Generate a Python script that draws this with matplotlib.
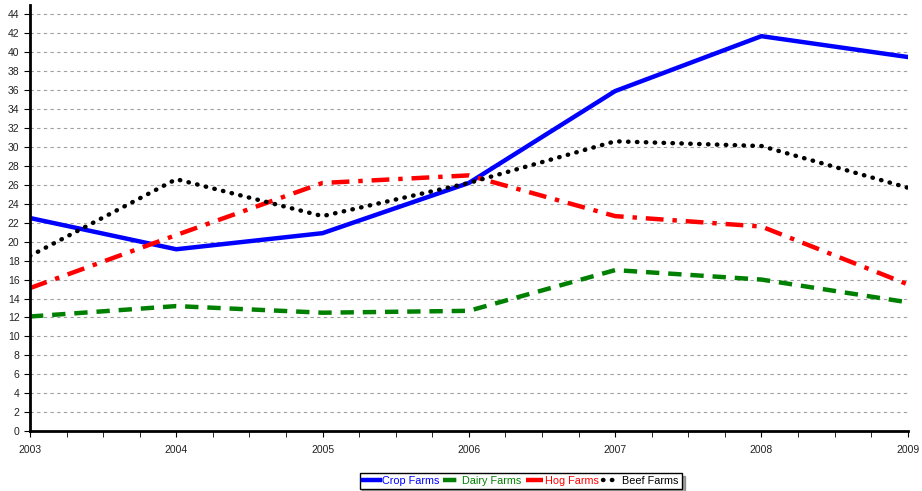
import matplotlib.pyplot as plt
from matplotlib.ticker import MultipleLocator

years = [2003, 2004, 2005, 2006, 2007, 2008, 2009]
crop = [22.5, 19.2, 20.9, 26.2, 35.9, 41.7, 39.5]
dairy = [12.1, 13.2, 12.5, 12.7, 17.0, 16.0, 13.6]
hog = [15.1, 20.7, 26.2, 27.0, 22.7, 21.6, 15.5]
beef = [18.5, 26.6, 22.7, 26.2, 30.6, 30.1, 25.7]

plt.rcParams['font.family'] = ['Liberation Sans', 'DejaVu Sans']

fig = plt.figure(figsize=(9.22, 4.91), dpi=100)
ax = fig.add_axes([0.0325, 0.122, 0.952, 0.868])

ax.plot(years, crop, color='#0000ff', lw=3.2, label='Crop Farms')
ax.plot(years, dairy, color='#008000', lw=3.2, ls=(0, (3, 2)), label='Dairy Farms')
ax.plot(years, hog, color='#ff0000', lw=3.2, ls=(0, (4, 2, 1, 2)), label='Hog Farms')
ax.plot(years, beef, color='black', lw=3.2, ls=(0, (0.1, 1.9)), dash_capstyle='round', label='Beef Farms')

ax.set_xlim(2003, 2009)
ax.set_ylim(0, 45)
ax.xaxis.set_minor_locator(MultipleLocator(0.25))
ax.set_xticks(years)
ax.set_xticklabels([str(y) for y in years])
ax.set_yticks(range(0, 45, 2))
ax.grid(axis='y', color='#a0a0a0', ls=(0, (3, 3)), lw=0.8)
ax.set_axisbelow(True)
for s in ['top', 'right']:
    ax.spines[s].set_visible(False)
ax.spines['left'].set_linewidth(2)
ax.spines['bottom'].set_linewidth(2)
ax.tick_params(axis='both', labelsize=7.5, labelcolor='#222222', length=4)
ax.tick_params(axis='x', which='minor', length=4)
ax.tick_params(axis='x', pad=6)

leg = ax.legend(loc='upper center', bbox_to_anchor=(0.559, -0.085), ncol=4, fontsize=7.8,
                frameon=True, fancybox=False, shadow=True, handlelength=1.6,
                handletextpad=0.15, columnspacing=0.4, borderpad=0.3)
leg.get_frame().set_edgecolor('black')
leg.get_frame().set_linewidth(1)
for line, text in zip(leg.get_lines(), leg.get_texts()):
    text.set_color(line.get_color())

fig.savefig('out.png', dpi=100)
